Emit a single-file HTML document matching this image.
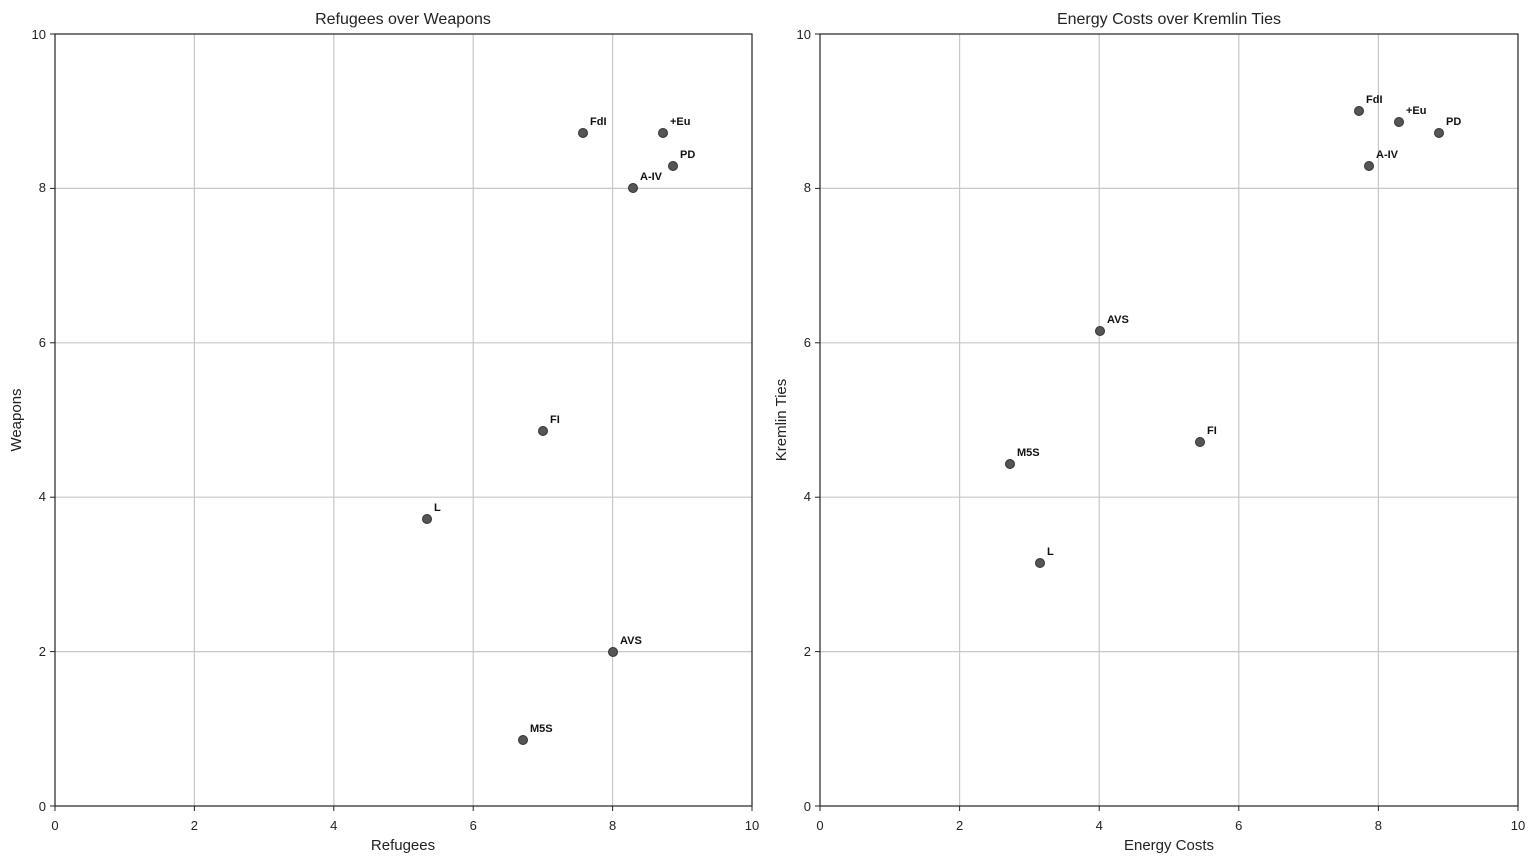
<!DOCTYPE html>
<html><head><meta charset="utf-8"><style>
html,body{margin:0;padding:0;background:#fff;}
svg{display:block;font-family:"Liberation Sans","DejaVu Sans",sans-serif;}
.t{font-size:13px;fill:#222;}
.ti{font-size:16px;fill:#222;}
.al{font-size:15px;fill:#222;}
.lb{font-size:11px;font-weight:bold;fill:#111;}
.g{stroke:#c8c8c8;stroke-width:1.2;}
.p{fill:#555;stroke:#333;stroke-width:1;}
</style></head><body>
<svg width="1536" height="864" viewBox="0 0 1536 864">
<g>
<line class="g" x1="194.4" y1="34" x2="194.4" y2="806"/>
<line class="g" x1="333.8" y1="34" x2="333.8" y2="806"/>
<line class="g" x1="473.2" y1="34" x2="473.2" y2="806"/>
<line class="g" x1="612.6" y1="34" x2="612.6" y2="806"/>
<line class="g" x1="55" y1="651.6" x2="752" y2="651.6"/>
<line class="g" x1="55" y1="497.2" x2="752" y2="497.2"/>
<line class="g" x1="55" y1="342.8" x2="752" y2="342.8"/>
<line class="g" x1="55" y1="188.4" x2="752" y2="188.4"/>
<rect x="55" y="34" width="697" height="772" fill="none" stroke="#222" stroke-width="1.2"/>
<g class="t" text-anchor="middle">
<text x="55" y="830">0</text><text x="194.4" y="830">2</text><text x="333.8" y="830">4</text><text x="473.2" y="830">6</text><text x="612.6" y="830">8</text><text x="752" y="830">10</text>
</g>
<g stroke="#222"><line x1="55" y1="806" x2="55" y2="811"/><line x1="194.4" y1="806" x2="194.4" y2="811"/><line x1="333.8" y1="806" x2="333.8" y2="811"/><line x1="473.2" y1="806" x2="473.2" y2="811"/><line x1="612.6" y1="806" x2="612.6" y2="811"/><line x1="752" y1="806" x2="752" y2="811"/>
<line x1="50" y1="806" x2="55" y2="806"/><line x1="50" y1="651.6" x2="55" y2="651.6"/><line x1="50" y1="497.2" x2="55" y2="497.2"/><line x1="50" y1="342.8" x2="55" y2="342.8"/><line x1="50" y1="188.4" x2="55" y2="188.4"/><line x1="50" y1="34" x2="55" y2="34"/></g>
<g class="t" text-anchor="end">
<text x="46" y="811">0</text><text x="46" y="656">2</text><text x="46" y="501">4</text><text x="46" y="347">6</text><text x="46" y="192">8</text><text x="46" y="39">10</text>
</g>
<text class="ti" x="403" y="24" text-anchor="middle">Refugees over Weapons</text>
<text class="al" x="403" y="850" text-anchor="middle">Refugees</text>
<text class="al" transform="translate(21,420) rotate(-90)" text-anchor="middle">Weapons</text>
<circle class="p" cx="583" cy="133" r="4.5"/><text class="lb" x="590" y="125">FdI</text>
<circle class="p" cx="663" cy="133" r="4.5"/><text class="lb" x="670" y="125">+Eu</text>
<circle class="p" cx="673" cy="166" r="4.5"/><text class="lb" x="680" y="158">PD</text>
<circle class="p" cx="633" cy="188" r="4.5"/><text class="lb" x="640" y="180">A-IV</text>
<circle class="p" cx="543" cy="431" r="4.5"/><text class="lb" x="550" y="423">FI</text>
<circle class="p" cx="427" cy="519" r="4.5"/><text class="lb" x="434" y="511">L</text>
<circle class="p" cx="613" cy="652" r="4.5"/><text class="lb" x="620" y="644">AVS</text>
<circle class="p" cx="523" cy="740" r="4.5"/><text class="lb" x="530" y="732">M5S</text>
</g>
<g>
<line class="g" x1="959.6" y1="34" x2="959.6" y2="806"/>
<line class="g" x1="1099.2" y1="34" x2="1099.2" y2="806"/>
<line class="g" x1="1238.8" y1="34" x2="1238.8" y2="806"/>
<line class="g" x1="1378.4" y1="34" x2="1378.4" y2="806"/>
<line class="g" x1="820" y1="651.6" x2="1518" y2="651.6"/>
<line class="g" x1="820" y1="497.2" x2="1518" y2="497.2"/>
<line class="g" x1="820" y1="342.8" x2="1518" y2="342.8"/>
<line class="g" x1="820" y1="188.4" x2="1518" y2="188.4"/>
<rect x="820" y="34" width="698" height="772" fill="none" stroke="#222" stroke-width="1.2"/>
<g class="t" text-anchor="middle">
<text x="820" y="830">0</text><text x="959.6" y="830">2</text><text x="1099.2" y="830">4</text><text x="1238.8" y="830">6</text><text x="1378.4" y="830">8</text><text x="1518" y="830">10</text>
</g>
<g stroke="#222"><line x1="820" y1="806" x2="820" y2="811"/><line x1="959.6" y1="806" x2="959.6" y2="811"/><line x1="1099.2" y1="806" x2="1099.2" y2="811"/><line x1="1238.8" y1="806" x2="1238.8" y2="811"/><line x1="1378.4" y1="806" x2="1378.4" y2="811"/><line x1="1518" y1="806" x2="1518" y2="811"/>
<line x1="815" y1="806" x2="820" y2="806"/><line x1="815" y1="651.6" x2="820" y2="651.6"/><line x1="815" y1="497.2" x2="820" y2="497.2"/><line x1="815" y1="342.8" x2="820" y2="342.8"/><line x1="815" y1="188.4" x2="820" y2="188.4"/><line x1="815" y1="34" x2="820" y2="34"/></g>
<g class="t" text-anchor="end">
<text x="811" y="811">0</text><text x="811" y="656">2</text><text x="811" y="501">4</text><text x="811" y="347">6</text><text x="811" y="192">8</text><text x="811" y="39">10</text>
</g>
<text class="ti" x="1169" y="24" text-anchor="middle">Energy Costs over Kremlin Ties</text>
<text class="al" x="1169" y="850" text-anchor="middle">Energy Costs</text>
<text class="al" transform="translate(786,420) rotate(-90)" text-anchor="middle">Kremlin Ties</text>
<circle class="p" cx="1359" cy="111" r="4.5"/><text class="lb" x="1366" y="103">FdI</text>
<circle class="p" cx="1399" cy="122" r="4.5"/><text class="lb" x="1406" y="114">+Eu</text>
<circle class="p" cx="1439" cy="133" r="4.5"/><text class="lb" x="1446" y="125">PD</text>
<circle class="p" cx="1369" cy="166" r="4.5"/><text class="lb" x="1376" y="158">A-IV</text>
<circle class="p" cx="1100" cy="331" r="4.5"/><text class="lb" x="1107" y="323">AVS</text>
<circle class="p" cx="1200" cy="442" r="4.5"/><text class="lb" x="1207" y="434">FI</text>
<circle class="p" cx="1010" cy="464" r="4.5"/><text class="lb" x="1017" y="456">M5S</text>
<circle class="p" cx="1040" cy="563" r="4.5"/><text class="lb" x="1047" y="555">L</text>
</g>
</svg>
</body></html>
